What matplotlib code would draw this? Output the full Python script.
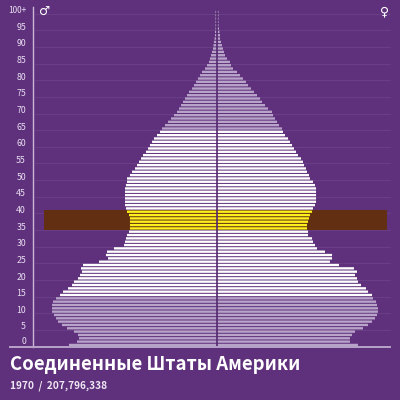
import numpy as np
import matplotlib
matplotlib.use('Agg')
import matplotlib.pyplot as plt

TITLE = 'Соединенные Штаты Америки'
SUBTITLE = '1970  /  207,796,338'

# thousands of people, age 0 up to 100+
male = [1850, 1750, 1725, 1738, 1788, 1875, 1938, 1988, 2012, 2038,
        2062, 2062, 2062, 2050, 2012, 1962, 1925, 1862, 1812, 1788,
        1738, 1712, 1688, 1700, 1675, 1475, 1362, 1388, 1375, 1288,
        1162, 1150, 1138, 1125, 1100, 1088, 1088, 1088, 1088, 1100,
        1125, 1138, 1150, 1150, 1150, 1150, 1150, 1150, 1138, 1125,
        1125, 1088, 1062, 1025, 1000, 975, 950, 925, 888, 862,
        838, 812, 788, 750, 712, 688, 650, 612, 575, 538,
        500, 475, 450, 425, 400, 375, 350, 312, 288, 262,
        238, 212, 188, 150, 125, 100, 88, 75, 62, 50,
        44, 38, 31, 25, 25, 19, 19, 19, 19, 19, 19]
female = [1762, 1662, 1662, 1688, 1725, 1825, 1888, 1938, 1975, 2000,
          2012, 2012, 2000, 1988, 1950, 1938, 1888, 1862, 1800, 1762,
          1750, 1725, 1750, 1712, 1525, 1412, 1438, 1438, 1350, 1250,
          1225, 1200, 1188, 1138, 1138, 1125, 1125, 1138, 1150, 1162,
          1188, 1200, 1225, 1238, 1238, 1238, 1238, 1238, 1225, 1200,
          1162, 1150, 1125, 1112, 1088, 1075, 1050, 1012, 988, 962,
          938, 912, 888, 850, 825, 812, 775, 750, 725, 700,
          688, 638, 600, 562, 538, 500, 462, 425, 388, 362,
          325, 288, 250, 200, 175, 162, 125, 100, 88, 75,
          62, 50, 38, 38, 31, 25, 19, 19, 19, 19, 19]
tick_ages = list(range(0, 100, 5))
highlight_ages = (35, 40)

BG = '#5f307c'
LIGHT = '#b8a3c9'
BROWN = '#632f12'
YELLOW = '#fdf01f'

ages = np.arange(len(male))
male = np.array(male)
female = np.array(female)

colors = []
for a in ages:
    if highlight_ages[0] <= a <= highlight_ages[1]:
        colors.append(YELLOW)
    elif a < 15 or a >= 65:
        colors.append(LIGHT)
    else:
        colors.append('white')

fig = plt.figure(figsize=(4, 4), dpi=100, facecolor=BG)
ax = fig.add_axes([0, 0, 1, 1], facecolor=BG)
# 0.08 px per thousand, 3.33 px per year, centre at x=217 and age 0 at y=346.6
ax.set_xlim(-217 / 0.08, 183 / 0.08)
ax.set_ylim(-53.4 / 3.33, 346.6 / 3.33)
ax.axis('off')

trans = ax.get_yaxis_transform()

for a in tick_ages + [100]:
    ax.plot([35 / 400, 390 / 400], [a, a], transform=trans, color='#6d4188', lw=0.6, zorder=1)

ax.axhspan(highlight_ages[0], highlight_ages[1] + 1, xmin=44 / 400, xmax=387 / 400,
           color=BROWN, lw=0, zorder=2)

for vals in (-male, female):
    bars = ax.barh(ages + 0.5, vals, height=0.7, color=colors, lw=0, zorder=3)
    for b in bars:
        b.set_snap(False)

ax.axvline(0, ymin=53.4 / 400, ymax=389 / 400, color='#54286f', lw=1.2, zorder=4)

# axis lines
ax.plot([33 / 400, 33 / 400], [0, 102], transform=trans, color='#c9b8d6', lw=1, zorder=5)
ax.plot([10 / 400, 390 / 400], [-0.2, -0.2], transform=trans, color='#b8a3c9', lw=1.4, zorder=5)

font = ['Noto Sans CJK SC', 'DejaVu Sans']
for a in tick_ages:
    offset = 1.6 if a == 0 else 0.9
    ax.text(26 / 400, a + offset, str(a), transform=trans, ha='right', va='center',
            color='#e8dff0', fontsize=6.3, fontweight='medium', family=font)
ax.text(26 / 400, 100.9, '100+', transform=trans, ha='right', va='center',
        color='#e8dff0', fontsize=6, fontweight='medium', family=font)

ax.text(45 / 400, 100.6, '♂', transform=trans, ha='center', va='center',
        color='white', fontsize=9, family='DejaVu Sans')
ax.text(385 / 400, 100.6, '♀', transform=trans, ha='center', va='center',
        color='white', fontsize=9, family='DejaVu Sans')

fig.text(10 / 400, 1 - 365 / 400, TITLE, color='white', fontsize=13.35, fontweight='bold',
         family=font, ha='left', va='center')
fig.text(10 / 400, 1 - 386 / 400, SUBTITLE, color='#efe8f4', fontsize=7.3, fontweight='bold',
         family=font, ha='left', va='center')

fig.savefig('out.png', dpi=100, facecolor=BG)
